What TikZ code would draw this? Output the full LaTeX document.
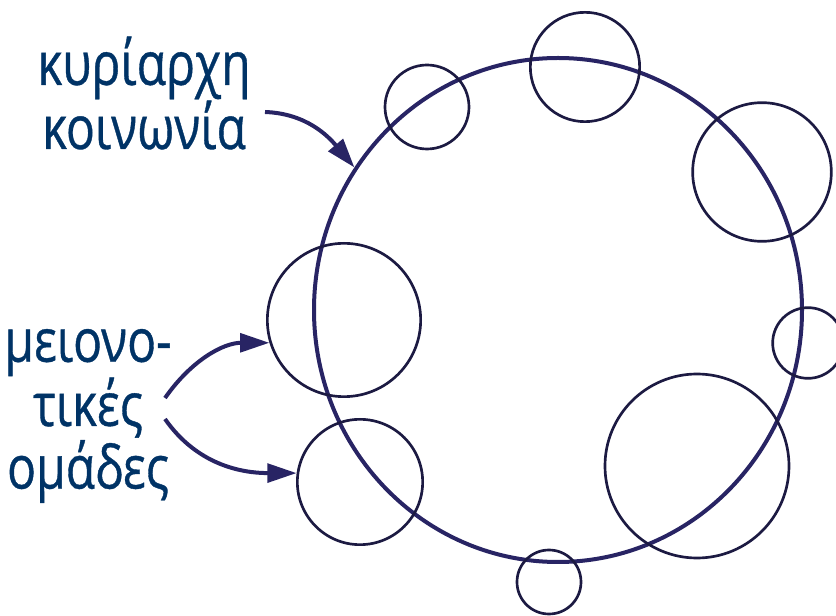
\documentclass[tikz,border=0pt]{standalone}
\usepackage{fontspec}
\newfontfamily\grfont[FakeStretch=0.8, FakeBold=0.6]{Open Sans}
\usepackage{xcolor}
\usetikzlibrary{shapes.geometric, arrows.meta, positioning}

\definecolor{inkblue}{RGB}{40,36,100}
\definecolor{ringblue}{RGB}{28,26,66}
\definecolor{textblue}{RGB}{0,51,102}

\begin{document}
\begin{tikzpicture}[
    x=0.75pt, y=-0.75pt,
    society/.style={ellipse, draw=inkblue, line width=3pt, inner sep=0pt, minimum width=366pt, minimum height=378pt},
    group/.style={circle, draw=ringblue, line width=2pt, inner sep=0pt},
    label_text/.style={font=\grfont\fontsize{45}{47}\selectfont, text=textblue, align=center, inner sep=0pt},
    arrow/.style={-{Triangle[length=22pt, width=14pt]}, draw=inkblue, line width=3pt}
]
\useasboundingbox (0,0) rectangle (836,616);

% Society and its groups
\node (society) [society] at (558,310) {};
\node (grp_a) [group, minimum size=63pt] at (427,107) {};
\node (grp_b) [group, minimum size=82pt] at (585,67) {};
\node (grp_c) [group, minimum size=104pt] at (762,172) {};
\node (grp_d) [group, minimum size=53pt] at (808,343) {};
\node (grp_e) [group, minimum size=138pt] at (697,466) {};
\node (grp_f) [group, minimum size=48pt] at (549,582) {};
\node (grp_g) [group, minimum size=115pt] at (344,320) {};
\node (grp_h) [group, minimum size=94pt] at (360,482) {};

% Labels
\node (ruling) [label_text] at (144,93) {κυρίαρχη\\κοινωνία};
\node (minority) [label_text] at (88,416) {μειονο-\\τικές\\ομάδες};

\coordinate (ruling_tail) at (265,112);
\coordinate (upper_tail) at (165,398);
\coordinate (lower_tail) at (165,419);

% Arrows
\draw [arrow] (ruling_tail) to[out=-2, in=130] (society.145.8);
\draw [arrow] (upper_tail) to[out=55, in=180] (grp_g.197);
\draw [arrow] (lower_tail) to[out=-55, in=180] (grp_h.172);

\end{tikzpicture}
\end{document}
